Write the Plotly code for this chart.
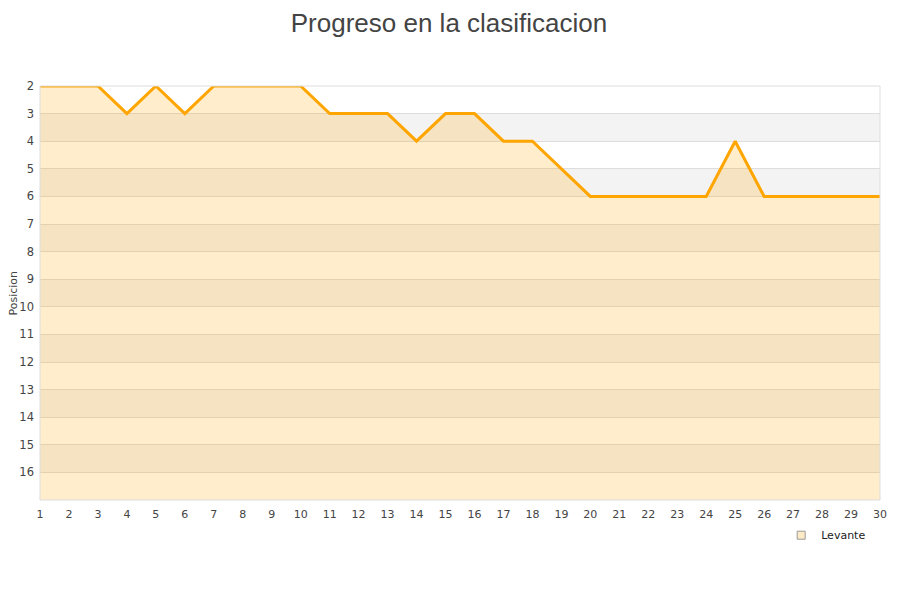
import plotly.graph_objects as go

jornadas = list(range(1, 31))
posiciones = [2, 2, 2, 3, 2, 3, 2, 2, 2, 2, 3, 3, 3, 4, 3, 3, 4, 4, 5, 6,
              6, 6, 6, 6, 4, 6, 6, 6, 6, 6]
equipo = "Levante"
y_ticks = list(range(2, 17))
fondo = 17

fig = go.Figure()

# baseline for fill
fig.add_trace(go.Scatter(x=jornadas, y=[fondo] * len(jornadas), mode="lines",
                         line=dict(width=0), showlegend=False, hoverinfo="skip"))
fig.add_trace(go.Scatter(x=jornadas, y=posiciones, mode="lines", name=equipo,
                         line=dict(color="#ffa500", width=3),
                         fill="tonexty", fillcolor="rgba(255,165,0,0.2)",
                         showlegend=False))
fig.add_trace(go.Scatter(x=[None], y=[None], mode="markers", name=equipo,
                         marker=dict(symbol="square", size=8, color="#fdebc8",
                                     line=dict(color="#999999", width=1))))

shapes = []
for n in range(3, 17, 2):
    shapes.append(dict(type="rect", xref="paper", x0=0, x1=1, yref="y",
                       y0=n, y1=n + 1, fillcolor="#f3f3f3", line=dict(width=0),
                       layer="between"))
shapes.append(dict(type="rect", xref="paper", yref="paper", x0=0, x1=1, y0=0, y1=1,
                   line=dict(color="#dddddd", width=1), layer="above"))

plot_w = 840
fig.update_layout(
    width=900, height=600,
    margin=dict(l=32, r=28, t=78, b=108),
    paper_bgcolor="white", plot_bgcolor="white",
    title=dict(text="Progreso en la clasificacion", x=0.49, xanchor="center",
               y=0.975, yanchor="middle",
               font=dict(family="Liberation Sans", size=26, color="#444444")),
    font=dict(family="DejaVu Sans", size=11, color="#444444"),
    shapes=shapes,
    showlegend=True,
    legend=dict(x=0.9895, xanchor="right", y=-0.05, yanchor="top",
                bgcolor="rgba(0,0,0,0)", font=dict(size=11, color="#222222"),
                itemwidth=30),
    annotations=[dict(text="Posicion", textangle=-90, xref="paper", yref="paper",
                      x=(4.5 - 32) / plot_w, y=0.5, xanchor="center", yanchor="middle",
                      showarrow=False, font=dict(size=11, color="#444444"))],
    xaxis=dict(range=[1, 30], tickvals=jornadas, showgrid=False, zeroline=False,
               showline=False, ticks="", automargin=False, ticklabelstandoff=6,
               tickfont=dict(size=11, color="#444444")),
    yaxis=dict(range=[fondo, 2], tickvals=y_ticks, showgrid=True, gridcolor="#dddddd",
               zeroline=False, showline=False, ticks="", automargin=False,
               ticklabelstandoff=5,
               tickfont=dict(size=11.5, color="#444444")),
)

fig.write_html("out.html")
